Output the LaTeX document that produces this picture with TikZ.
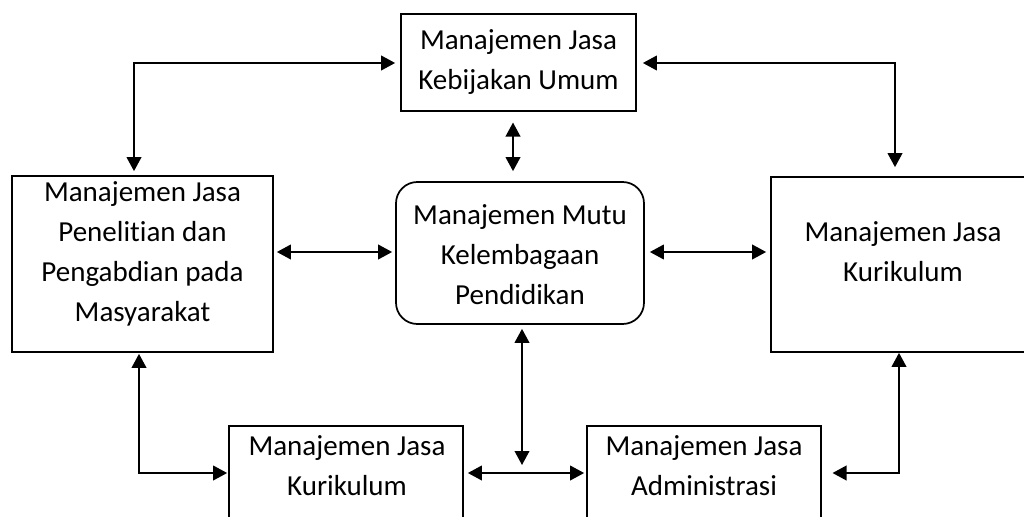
\documentclass[tikz,border=0pt]{standalone}
\usepackage{fontspec}
\setmainfont{Carlito}[Ligatures=NoCommon]
\usetikzlibrary{arrows.meta}
\begin{document}
\begin{tikzpicture}[x=0.75pt,y=-0.75pt,
 box/.style={draw, line width=1.3pt, inner sep=0pt},
 txt/.style={align=center, font=\fontsize{21.75pt}{30pt}\selectfont, inner sep=0pt},
 link/.style={line width=1.3pt, {Triangle[length=10.5pt,width=11pt]}-{Triangle[length=10.5pt,width=11pt]}}]
\useasboundingbox (0,0) rectangle (1024,517);
% boxes
\node[box, minimum width=176.25pt, minimum height=72.75pt] (T) at (518.5,62.5) {};
\node[box, minimum width=195.75pt, minimum height=132pt] (L) at (142.5,264) {};
\node[box, rounded corners=16pt, minimum width=186pt, minimum height=106.5pt] (C) at (520,253) {};
\node[box, minimum width=198pt, minimum height=131.25pt] (R) at (903,264.5) {};
\node[box, minimum width=175.5pt, minimum height=75pt] (BL) at (346,476) {};
\node[box, minimum width=175.5pt, minimum height=75pt] (BR) at (704,476) {};
% texts
\node[txt] (Tt) at (518.5,62.5) {Manajemen Jasa\\Kebijakan Umum};
\node[txt] (Lt) at (142.5,254) {Manajemen Jasa\\Penelitian dan\\Pengabdian pada\\Masyarakat};
\node[txt] (Ct) at (520,255) {Manajemen Mutu\\Kelembagaan\\Pendidikan};
\node[txt] (Rt) at (903,252) {Manajemen Jasa\\Kurikulum};
\node[txt] (BLt) at (347,466) {Manajemen Jasa\\Kurikulum};
\node[txt] (BRt) at (704,466) {Manajemen Jasa\\Administrasi};
% connector helper points
\coordinate (tl) at (134,63);
\coordinate (tr) at (895,63);
\coordinate (tc) at (513,0);
\coordinate (ml) at (0,252);
\coordinate (bl) at (139,473);
\coordinate (bj) at (522,473);
\coordinate (br) at (899,473);
% connectors
\draw[link, shorten <=3pt, shorten >=3.75pt] (L.north -| tl) -- (tl) -- (T.west |- tl);
\draw[link, shorten <=4.5pt, shorten >=6.75pt] (T.east |- tr) -- (tr) -- (R.north -| tr);
\draw[link, shorten <=8pt, shorten >=7.5pt] (T.south -| tc) -- (C.north -| tc);
\draw[link, shorten <=2.25pt, shorten >=2.25pt] (L.east |- ml) -- (C.west |- ml);
\draw[link, shorten <=3.75pt, shorten >=3pt] (C.east |- ml) -- (R.west |- ml);
\draw[link, shorten <=0.75pt, shorten >=0.75pt] (L.south -| bl) -- (bl) -- (BL.west |- bl);
\draw[link, shorten <=3pt, shorten >=1.5pt] (BL.east |- bl) -- (BR.west |- bl);
\draw[link, shorten <=3pt, shorten >=6pt] (C.south -| bj) -- (bj);
\draw[link, shorten <=8pt] (BR.east |- br) -- (br) -- (R.south -| br);
\end{tikzpicture}
\end{document}
